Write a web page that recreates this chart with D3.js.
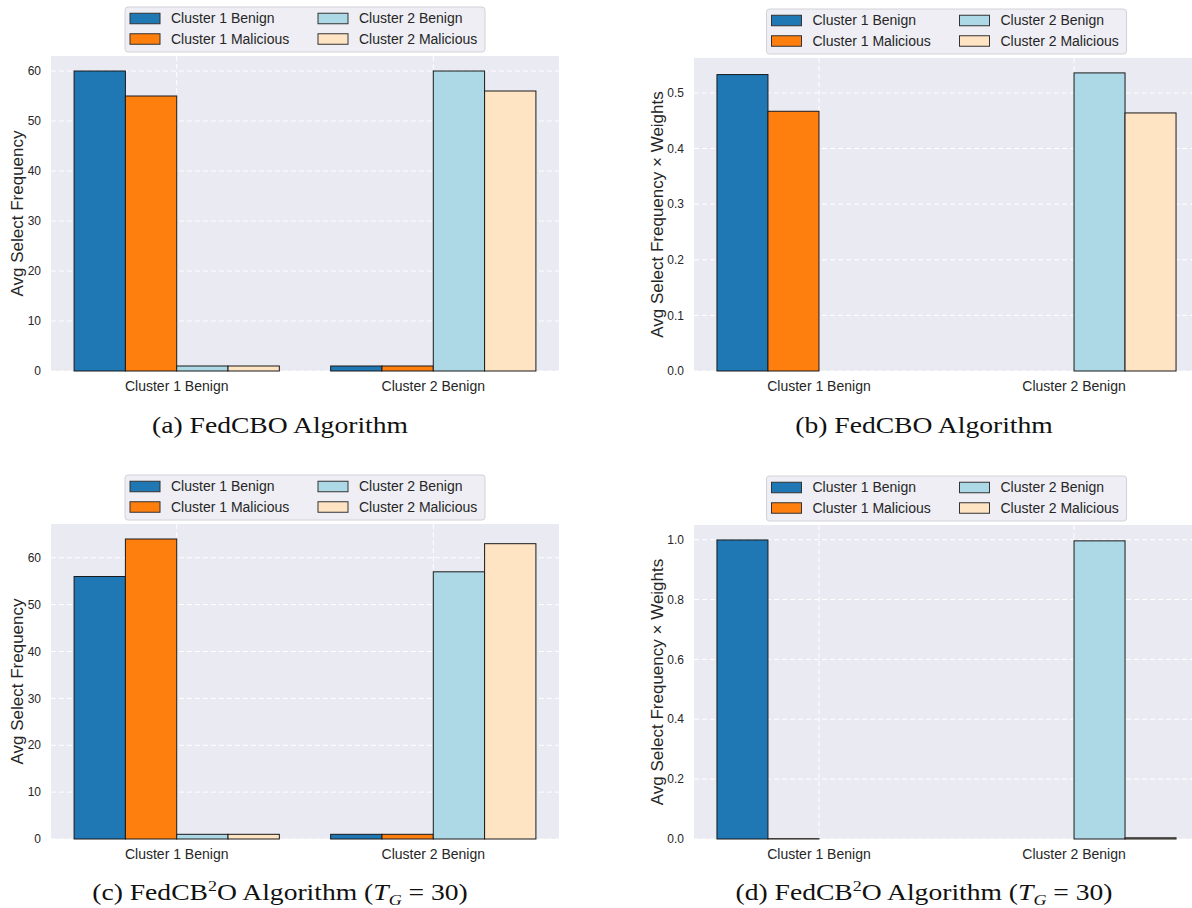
<!DOCTYPE html>
<html>
<head>
<meta charset="utf-8">
<script src="https://cdn.jsdelivr.net/npm/d3@7"></script>
<style>
body { margin: 0; background: #fff; }
svg { display: block; }
</style>
</head>
<body>
<svg width="1192" height="908"></svg>
<script>
// categories and series
var groups = ["Cluster 1 Benign", "Cluster 2 Benign"]
var seriesNames = ["Cluster 1 Benign", "Cluster 1 Malicious", "Cluster 2 Benign", "Cluster 2 Malicious"]
var seriesColors = ["#1f77b4", "#ff7f0e", "#add8e6", "#ffe4c4"]

// values, one array per series (index = group)
var fedcboFreq = [[60, 1], [55, 1], [1, 60], [1, 56]]
var fedcboWeighted = [[0.533, 0], [0.467, 0], [0, 0.536], [0, 0.464]]
var fedcb2oFreq = [[56, 1], [64, 1], [1, 57], [1, 63]]
var fedcb2oWeighted = [[0.999, 0], [0.001, 0], [0, 0.996], [0, 0.004]]

var freqTicks = [0, 10, 20, 30, 40, 50, 60]
var weightedTicksB = [0.0, 0.1, 0.2, 0.3, 0.4, 0.5]
var weightedTicksD = [0.0, 0.2, 0.4, 0.6, 0.8, 1.0]

var labelFreq = "Avg Select Frequency"
var labelWeighted = "Avg Select Frequency \u00d7 Weights"

var sans = "'Liberation Sans', Arial, sans-serif"
var serif = "'Liberation Serif', 'Times New Roman', serif"
var textColor = "#262626"

var svg = d3.select("svg")

var panels = [
  {values: fedcboFreq, ticks: freqTicks, fmt: d3.format("d"), ylabel: labelFreq,
   left: 51, right: 559, top: 56, bottom: 371, ylabelX: 17, capX: 280, capY: 433,
   caption: [{t: "(a) FedCBO Algorithm"}]},
  {values: fedcboWeighted, ticks: weightedTicksB, fmt: d3.format(".1f"), ylabel: labelWeighted,
   left: 694, right: 1199, top: 58, bottom: 371, ylabelX: 657, capX: 924, capY: 433,
   caption: [{t: "(b) FedCBO Algorithm"}]},
  {values: fedcb2oFreq, ticks: freqTicks, fmt: d3.format("d"), ylabel: labelFreq,
   left: 51, right: 559, top: 524, bottom: 839, ylabelX: 17, capX: 280, capY: 900,
   caption: [{t: "(c) FedCB"}, {t: "2", sup: true}, {t: "O Algorithm ("}, {t: "T", it: true}, {t: "G", it: true, sub: true}, {t: " = 30)"}]},
  {values: fedcb2oWeighted, ticks: weightedTicksD, fmt: d3.format(".1f"), ylabel: labelWeighted,
   left: 694, right: 1199, top: 525, bottom: 839, ylabelX: 657, capX: 924, capY: 900,
   caption: [{t: "(d) FedCB"}, {t: "2", sup: true}, {t: "O Algorithm ("}, {t: "T", it: true}, {t: "G", it: true, sub: true}, {t: " = 30)"}]}
]

var drawPanel = function(p)
{
    var g = svg.append("g")
    var maxV = d3.max(p.values, function(s){ return d3.max(s) })
    var xScale = d3.scaleLinear().domain([-0.49, 1.49]).range([p.left, p.right])
    var yScale = d3.scaleLinear().domain([0, maxV * 1.05]).range([p.bottom, p.top])
    var barW = 0.2

    g.append("rect")
      .attr("x", p.left).attr("y", p.top)
      .attr("width", p.right - p.left).attr("height", p.bottom - p.top)
      .attr("fill", "#eaeaf2")

    // grid
    g.selectAll(".hgrid").data(p.ticks).enter().append("line")
      .attr("x1", p.left).attr("x2", p.right)
      .attr("y1", function(d){ return yScale(d) }).attr("y2", function(d){ return yScale(d) })
      .attr("stroke", "#ffffff").attr("stroke-width", 1).attr("stroke-dasharray", "5,3")
    g.selectAll(".vgrid").data(d3.range(groups.length)).enter().append("line")
      .attr("x1", function(d){ return xScale(d) }).attr("x2", function(d){ return xScale(d) })
      .attr("y1", p.top).attr("y2", p.bottom)
      .attr("stroke", "#ffffff").attr("stroke-width", 1).attr("stroke-dasharray", "5,3")

    // bars
    p.values.forEach(function(series, si)
    {
        var off = (si - 1.5) * barW
        g.selectAll(".bar" + si)
          .data(series.map(function(v, gi){ return {v: v, g: gi} }).filter(function(d){ return d.v > 0 }))
          .enter()
          .append("rect")
          .attr("x", function(d){ return xScale(d.g + off - barW / 2) })
          .attr("width", function(d){ return xScale(barW) - xScale(0) })
          .attr("y", function(d){ return yScale(d.v) })
          .attr("height", function(d){ return yScale(0) - yScale(d.v) })
          .attr("fill", seriesColors[si])
          .attr("stroke", "#1a1a1a")
          .attr("stroke-width", 1)
    })

    // y tick labels
    g.selectAll(".ytick").data(p.ticks).enter().append("text")
      .attr("x", p.left - 10)
      .attr("y", function(d){ return yScale(d) })
      .attr("dy", "0.35em")
      .attr("text-anchor", "end")
      .attr("font-family", sans).attr("font-size", 12).attr("fill", textColor)
      .text(function(d){ return p.fmt(d) })

    // x tick labels
    g.selectAll(".xtick").data(groups).enter().append("text")
      .attr("x", function(d, i){ return xScale(i) })
      .attr("y", p.bottom + 20)
      .attr("text-anchor", "middle")
      .attr("font-family", sans).attr("font-size", 14).attr("fill", textColor)
      .text(function(d){ return d })

    // y label
    g.append("text")
      .attr("transform", "translate(" + p.ylabelX + "," + ((p.top + p.bottom) / 2) + ") rotate(-90)")
      .attr("dy", "0.35em")
      .attr("text-anchor", "middle")
      .attr("font-family", sans).attr("font-size", 17).attr("fill", textColor)
      .text(p.ylabel)

    // legend
    var cx = (p.left + p.right) / 2
    var lx = cx - 180, ly = p.top - 49
    var leg = g.append("g")
    leg.append("rect")
      .attr("x", lx).attr("y", ly).attr("width", 360).attr("height", 45)
      .attr("rx", 3)
      .attr("fill", "#eeeef4").attr("stroke", "#d2d2d8").attr("stroke-width", 1)
    var items = leg.selectAll(".item").data(seriesNames).enter().append("g")
      .attr("transform", function(d, i){
          var col = Math.floor(i / 2), row = i % 2
          return "translate(" + (lx + (col ? 193 : 5)) + "," + (ly + (row ? 32 : 11.5)) + ")"
      })
    items.append("rect")
      .attr("x", 0).attr("y", -5.25).attr("width", 30).attr("height", 10.5)
      .attr("fill", function(d, i){ return seriesColors[i] })
      .attr("stroke", "#333").attr("stroke-width", 1)
    items.append("text")
      .attr("x", 41).attr("dy", "0.35em")
      .attr("font-family", sans).attr("font-size", 14).attr("fill", textColor)
      .text(function(d){ return d })

    // caption
    var cap = svg.append("text")
      .attr("transform", "translate(" + p.capX + "," + p.capY + ") scale(1.2,1)")
      .attr("text-anchor", "middle")
      .attr("font-family", serif).attr("font-size", 23).attr("fill", "#111")
    var shift = 0
    p.caption.forEach(function(part)
    {
        var dy = 0
        if (part.sup) dy = -9
        else if (part.sub) dy = 5
        var span = cap.append("tspan")
          .attr("dy", dy - shift)
          .text(part.t)
        shift = dy
        if (part.sup || part.sub) span.attr("font-size", 15)
        if (part.it) span.attr("font-style", "italic")
    })
}

panels.forEach(drawPanel)
</script>
</body>
</html>
